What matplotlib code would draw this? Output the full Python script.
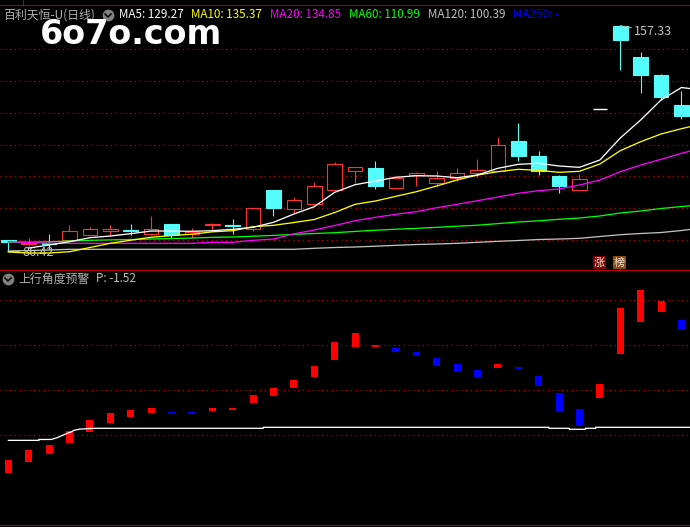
import matplotlib
matplotlib.use("Agg")
import matplotlib.pyplot as plt
from matplotlib.lines import Line2D
from matplotlib.patches import Rectangle
import numpy as np

plt.rcParams['font.family'] = ['Noto Sans CJK SC', 'DejaVu Sans']

W, H = 690, 527
nan = float('nan')

# candles: top of body, bottom of body, high, low
body_top = [90.01, 89.16, 89.06, 92.74, 93.37, 93.37, 93.15, 93.37, 95.03, 92.52, 95.03, 94.72,
            99.96, 105.71, 102.48, 106.87, 113.78, 112.84, 112.62, 109.39, 110.96, 109.39, 110.96, 111.90,
            119.75, 121.10, 116.39, 110.11, 109.07, 131.15, 157.33, 147.49, 141.83, 132.41]
body_bot = [89.38, 88.91, 88.75, 90.10, 91.67, 92.93, 92.96, 91.80, 91.58, 91.89, 94.84, 94.53,
            93.46, 100.06, 99.84, 101.41, 105.80, 111.77, 106.97, 106.34, 110.33, 107.82, 109.39, 110.96,
            111.59, 116.39, 111.68, 106.97, 105.80, 130.85, 152.83, 141.83, 134.92, 128.95]
highs = [90.01, 90.63, 91.89, 94.72, 94.09, 94.72, 95.03, 97.54, 95.03, 93.78, 95.35, 96.60,
         100.06, 105.71, 103.51, 108.22, 114.51, 112.84, 114.82, 110.11, 111.37, 111.68, 112.62, 115.45,
         122.36, 126.76, 117.96, 110.42, 110.74, 131.15, 157.33, 149.06, 142.15, 136.81]
lows = [86.42, 88.12, 86.87, 90.01, 91.26, 91.58, 91.58, 91.58, 90.63, 90.63, 93.15, 91.89,
        92.83, 97.54, 98.49, 100.69, 105.80, 107.91, 106.03, 106.03, 106.97, 106.97, 108.54, 109.80,
        111.59, 114.82, 110.42, 104.77, 105.80, 130.85, 143.40, 136.18, 133.98, 128.01]
# 1 up (red hollow), 0 down (cyan), 2 one price bar (white)
kinds = [0, 1, 0, 1, 1, 1, 0, 1, 0, 1, 1, 0,
         1, 0, 1, 1, 1, 1, 0, 1, 1, 1, 1, 1,
         1, 0, 0, 0, 1, 2, 0, 0, 0, 0]

# moving averages, one value past the right edge
ma5 = [nan, 87.49, 88.44, 89.47, 90.73, 91.26, 91.99, 92.83, 92.83, 92.74, 92.93, 93.37,
       94.00, 95.57, 98.17, 100.47, 104.99, 107.38, 108.54, 109.70, 110.20, 110.11, 109.57, 110.42,
       112.53, 113.78, 114.10, 113.25, 112.84, 115.13, 122.04, 127.70, 133.98, 137.91, 137.12]
ma10 = [86.24, 85.92, 85.92, 86.33, 87.65, 88.97, 89.94, 90.88, 91.39, 91.83, 92.58, 92.93,
        94.18, 94.62, 95.50, 96.45, 98.64, 101.22, 102.26, 103.73, 105.18, 106.97, 108.85, 110.42,
        111.46, 112.21, 111.90, 111.27, 111.59, 113.88, 118.06, 120.88, 123.30, 124.97, 126.44]
ma20 = [89.47, 89.22, 88.97, 88.97, 88.97, 88.97, 88.97, 88.97, 88.97, 88.97, 89.28, 89.28,
        89.91, 90.32, 91.95, 93.15, 94.56, 96.07, 97.14, 98.08, 98.90, 100.15, 101.22, 102.35,
        103.51, 104.68, 105.49, 106.03, 107.28, 108.85, 111.46, 113.56, 115.35, 117.24, 118.90]
ma60 = [89.28, 89.31, 89.44, 89.69, 89.91, 90.04, 90.16, 90.32, 90.48, 90.63, 90.85, 90.95,
        91.20, 91.45, 91.80, 92.05, 92.30, 92.71, 93.08, 93.40, 93.68, 93.99, 94.34, 94.66,
        95.16, 95.66, 96.04, 96.51, 96.92, 97.55, 98.49, 99.12, 99.90, 100.53, 101.00]
ma120 = [86.55, 86.71, 86.87, 87.09, 87.09, 87.09, 87.09, 87.09, 87.09, 87.09, 87.09, 87.09,
         87.09, 87.09, 87.09, 87.40, 87.65, 87.81, 88.06, 88.34, 88.59, 88.75, 88.97, 89.28,
         89.60, 89.85, 90.16, 90.32, 90.54, 91.11, 91.67, 92.05, 92.36, 92.99, 93.78]

price_grid = [150, 140, 130, 120, 110, 100, 90]

# lower panel bars
sig_top = [-5.7, -3.4, -2.3, 0.8, 3.2, 4.8, 5.4, 5.9, 5.0, 5.0, 5.9, 5.9,
           8.8, 10.3, 12.1, 15.2, 20.6, 22.6, 19.9, 19.2, 18.3, 17.0, 15.7, 14.3,
           15.7, 15.0, 13.0, 9.2, 5.7, 11.2, 28.1, 32.1, 29.7, 25.4]
sig_bot = [-8.6, -6.1, -4.3, -1.9, 0.6, 2.6, 3.9, 4.8, 4.8, 4.6, 5.2, 5.4,
           7.0, 8.6, 10.3, 12.8, 16.6, 19.4, 19.4, 18.3, 17.4, 15.2, 13.9, 12.8,
           14.8, 14.6, 10.8, 5.0, 1.9, 8.1, 17.9, 25.0, 27.2, 23.2]
sig_up = [1, 1, 1, 1, 1, 1, 1, 1, 0, 0, 1, 1,
          1, 1, 1, 1, 1, 1, 1, 0, 0, 0, 0, 0,
          1, 0, 0, 0, 0, 1, 1, 1, 1, 0]

# white line of the lower panel
base_x = [0, 1.5, 1.5, 2.1, 2.4, 2.7, 2.9, 3.1, 3.2, 3.5, 4.2, 12.5, 12.5, 26.5, 26.5, 27.5, 27.5, 28.3, 28.3, 28.8, 28.8, 34]
base_y = [-1.3, -1.3, -1.1, -1.1, -0.7, -0.1, 0.3, 0.6, 0.9, 1.2, 1.38, 1.38, 1.6, 1.6, 1.38, 1.38, 1.16, 1.16, 1.38, 1.38, 1.6, 1.6]

sig_grid = [0, 10, 20, 30]

header = [("MA5: 129.27", 119, "#ffffff"), ("MA10: 135.37", 191, "#ffff00"), ("MA20: 134.85", 270, "#ff00ff"),
          ("MA60: 110.99", 349, "#00ff00"), ("MA120: 100.39", 428, "#c0c0c0"), ("MA250: -", 513, "#0000ff")]

px = 1 / 100 * 72  # one pixel in points
red = "#ff3232"
cyan = "#54fcfc"
grid_red = "#c80000"

fig = plt.figure(figsize=(W / 100, H / 100), dpi=100, facecolor="black")


def panel(y0, y1):
    a = fig.add_axes([0, 1 - y1 / H, 1, (y1 - y0) / H], facecolor="black")
    a.set_xlim(-0.407, 33.42)
    a.axis("off")
    return a


def ftext(x, y, s, **kw):
    fig.text(x / W, 1 - y / H, s, va="center", ha="left", **kw)


def icon(x, y):
    fig.add_artist(Line2D([x / W], [1 - y / H], marker="o", ms=8.5, color="#808080", mew=0))
    fig.add_artist(Line2D([(x - 3) / W, x / W, (x + 3) / W], [1 - (y - 1) / H, 1 - (y + 2) / H, 1 - (y - 1) / H],
                          color="black", lw=1.1))


# price panel
ax = panel(5, 270)
ax.set_ylim(80.59, 163.82)
for g in price_grid:
    ax.axhline(g, color=grid_red, lw=1.2 * px, ls=(0, (1, 3)), zorder=1)

x = np.arange(len(kinds))
for i in x:
    k = kinds[i]
    if k == 2:
        ax.hlines(body_top[i], i - 0.34, i + 0.34, color="white", lw=1.4 * px, zorder=2)
        continue
    c = red if k == 1 else cyan
    ax.vlines(i, body_top[i], highs[i], color=c, lw=1.1 * px, zorder=2)
    ax.vlines(i, lows[i], body_bot[i], color=c, lw=1.1 * px, zorder=2)
    bars = ax.bar(i, body_top[i] - body_bot[i], bottom=body_bot[i], width=0.72,
                  facecolor="black" if k == 1 else c, edgecolor=c, lw=1.1 * px, zorder=2)
    bars[0].set_snap(True)

xl = np.arange(len(ma10))
ax.plot(xl, ma120, color="#c0c0c0", lw=1.3 * px, zorder=3)
ax.plot(xl, ma60, color="#00ff00", lw=1.3 * px, zorder=3)
ax.plot(xl, ma20, color="#ff00ff", lw=1.3 * px, zorder=3)
ax.plot(xl, ma10, color="#ffff00", lw=1.3 * px, zorder=3)
ax.plot(xl, ma5, color="#ffffff", lw=1.3 * px, zorder=3)

ax.annotate("157.33", xy=(30, 157.33), xytext=(14, -6), textcoords="offset pixels",
            color="#c0c0c0", fontsize=9, va="center", ha="left", zorder=5,
            arrowprops=dict(arrowstyle="-", color="#c0c0c0", lw=0.7, shrinkA=0, shrinkB=0))
ax.annotate("86.42", xy=(0, 86.42), xytext=(14, -1), textcoords="offset pixels",
            color="#c0c0c0", fontsize=9, va="center", ha="left", zorder=2.5,
            arrowprops=dict(arrowstyle="-", color="#c0c0c0", lw=0.7, shrinkA=0, shrinkB=0))

# signal panel
ax2 = panel(270, 525)
ax2.set_ylim(-20.11, 36.56)
for g in sig_grid:
    ax2.axhline(g, color=grid_red, lw=1.2 * px, ls=(0, (1, 3)), zorder=1)
ax2.bar(x, np.array(sig_top) - np.array(sig_bot), bottom=sig_bot, width=0.34,
        color=["#ff0000" if u else "#0000ff" for u in sig_up], antialiased=False, zorder=2)
ax2.plot(base_x, base_y, color="white", lw=1.3 * px, zorder=3)

# frame lines
for y in [5, 270, 525]:
    fig.add_artist(Line2D([0, 1], [1 - y / H, 1 - y / H], color="#b00000", lw=1.1 * px))
fig.add_artist(Line2D([23 / W, 23 / W], [1 - 5 / H, 1], color="#b00000", lw=1.1 * px))

# headers
ftext(3, 15, "百利天恒-U(日线)", color="#b0b0b0", fontsize=8.6)
icon(108, 15)
for s, xp, c in header:
    ftext(xp, 15, s, color=c, fontsize=8.4)

ftext(40, 35, "6o7o.com", color="white", fontsize=24, fontweight="bold", family="DejaVu Sans")

icon(8, 279)
ftext(18, 279, "上行角度预警", color="#b0b0b0", fontsize=8.6)
ftext(96, 279, "P: -1.52", color="#c0c0c0", fontsize=8.4)

# badges
for xp, s, c in [(593, "涨", "#7a0000"), (613, "榜", "#8b4a10")]:
    fig.add_artist(Rectangle((xp / W, 1 - 269 / H), 13 / W, 13 / H, color=c, lw=0, transform=fig.transFigure))
    fig.text((xp + 6.5) / W, 1 - 262.5 / H, s, color="#f0e0d0", fontsize=8, ha="center", va="center")

fig.savefig("out.png", dpi=100, facecolor="black")
